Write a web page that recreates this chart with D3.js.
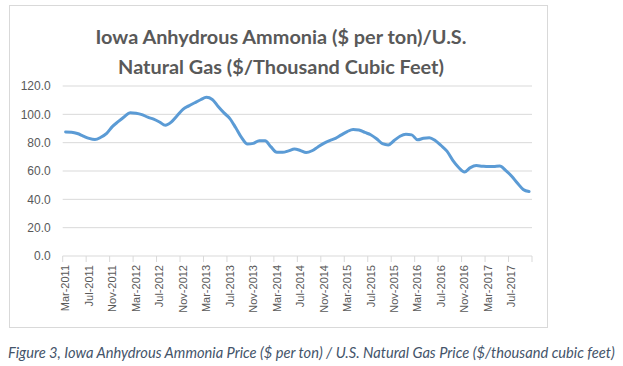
<!DOCTYPE html>
<html>
<head>
<meta charset="utf-8">
<script src="https://cdn.jsdelivr.net/npm/d3@7"></script>
<style>
  body { margin: 0; background: #fff; }
  svg { display: block; }
</style>
</head>
<body>
<svg id="chart" width="623" height="366"></svg>
<script>
// Iowa anhydrous ammonia ($/ton) divided by U.S. natural gas ($/Mcf), monthly Mar-2011 .. Oct-2017
const months = d3.timeMonth.range(new Date(2011, 2, 1), new Date(2017, 10, 1));
const labels = months.map(d3.timeFormat("%b-%Y"));
const ratio = [
    87.6, 87.4, 86.5, 84.7, 83.0, 82.2, 83.8, 86.6, 91.5, 95.0,
    98.3, 101.2, 100.8, 99.8, 98.0, 96.6, 94.6, 92.3, 94.5, 99.0,
    103.5, 106.0, 108.2, 110.3, 112.0, 110.5, 105.5, 101.0, 97.0, 90.5,
    83.5, 79.0, 79.5, 81.4, 81.3, 77.0, 73.2, 73.2, 74.2, 75.5,
    74.5, 73.0, 74.3, 77.0, 79.5, 81.5, 83.0, 85.5, 87.8, 89.3,
    89.0, 87.2, 85.6, 82.8, 79.3, 78.4, 81.5, 84.5, 85.9, 85.5,
    82.0, 83.1, 83.5, 81.5, 78.0, 74.0, 67.5, 62.5, 59.3, 62.4,
    63.8, 63.4, 63.1, 63.2, 63.5, 60.5, 56.5, 51.5, 47.0, 45.5
];
const yTicks = [0, 20, 40, 60, 80, 100, 120];
const titleLines = ["Iowa Anhydrous Ammonia ($ per ton)/U.S.", "Natural Gas ($/Thousand Cubic Feet)"];
const caption = "Figure 3, Iowa Anhydrous Ammonia Price ($ per ton) / U.S. Natural Gas Price ($/thousand cubic feet)";

const svg = d3.select("#chart");
const plot = { left: 62.7, right: 532, top: 86, bottom: 256 };
const grey = "#595959";
const gridColor = "#D9D9D9";
const axisFont = "'Liberation Sans', Arial, sans-serif";

// shrink or grow a text's font so it spans the given width
function fitWidth(sel, width) {
    sel.each(function () {
        const size = parseFloat(this.style.fontSize);
        const w = this.getComputedTextLength();
        this.style.fontSize = (size * width / w).toFixed(2) + "px";
    });
}

// chart frame
svg.append("rect")
    .attr("x", 9.5).attr("y", 5.5)
    .attr("width", 538).attr("height", 322)
    .attr("fill", "#fff")
    .attr("stroke", gridColor);

const x = d3.scaleBand()
    .domain(labels)
    .range([plot.left, plot.right])
    .padding(0);

const y = d3.scaleLinear()
    .domain([0, 120])
    .range([plot.bottom, plot.top]);

// gridlines
svg.append("g")
    .selectAll("line")
    .data(yTicks)
    .enter()
    .append("line")
    .attr("x1", plot.left).attr("x2", plot.right)
    .attr("y1", d => y(d)).attr("y2", d => y(d))
    .attr("stroke", gridColor)
    .attr("stroke-width", 1);

// y labels
const yAxis = svg.append("g")
    .attr("transform", `translate(${plot.left - 12}, 0)`)
    .call(d3.axisLeft(y).tickValues(yTicks).tickFormat(d3.format(".1f")).tickSize(0));
yAxis.select(".domain").remove();
yAxis.selectAll("text")
    .attr("x", 0)
    .style("font-family", axisFont)
    .style("font-size", "12px")
    .attr("fill", grey);

// x tick marks at category boundaries, every 4 months
const tickIdx = d3.range(0, labels.length + 1, 4);
svg.append("g")
    .selectAll("line")
    .data(tickIdx)
    .enter()
    .append("line")
    .attr("x1", i => i < labels.length ? x(labels[i]) : plot.right)
    .attr("x2", i => i < labels.length ? x(labels[i]) : plot.right)
    .attr("y1", plot.bottom).attr("y2", plot.bottom + 6)
    .attr("stroke", gridColor);

// x labels
const xAxis = svg.append("g")
    .attr("transform", `translate(0, ${plot.bottom})`)
    .call(d3.axisBottom(x).tickValues(labels.filter((d, i) => i % 4 === 0)).tickSize(0));
xAxis.select(".domain").remove();
xAxis.selectAll("text")
    .attr("transform", "rotate(-90)")
    .attr("x", -9)
    .attr("y", 0)
    .attr("dy", "0.35em")
    .style("text-anchor", "end")
    .style("font-family", axisFont)
    .style("font-size", "11px")
    .attr("fill", grey);

// the series
const line = d3.line()
    .x((d, i) => x(labels[i]) + x.bandwidth() / 2)
    .y(d => y(d))
    .curve(d3.curveMonotoneX);

svg.append("path")
    .datum(ratio)
    .attr("d", line)
    .attr("fill", "none")
    .attr("stroke", "#5B9BD5")
    .attr("stroke-width", 3)
    .attr("stroke-linejoin", "round")
    .attr("stroke-linecap", "round");

// title
const title = svg.append("g")
    .selectAll("text")
    .data(titleLines)
    .enter()
    .append("text")
    .attr("x", 281)
    .attr("y", (d, i) => 44 + i * 30)
    .style("text-anchor", "middle")
    .style("font-family", "Lato, 'Open Sans', sans-serif")
    .style("font-weight", "bold")
    .style("font-size", "19px")
    .attr("fill", grey)
    .text(d => d);
fitWidth(title.filter((d, i) => i === 0), 371);
title.filter((d, i) => i === 1).style("font-size", title.node().style.fontSize);

// caption
svg.append("text")
    .attr("x", 8)
    .attr("y", 358)
    .style("font-family", "Lato, 'Open Sans', sans-serif")
    .style("font-style", "italic")
    .style("font-size", "12.5px")
    .attr("fill", "#44546A")
    .text(caption)
    .call(fitWidth, 607);
</script>
</body>
</html>
